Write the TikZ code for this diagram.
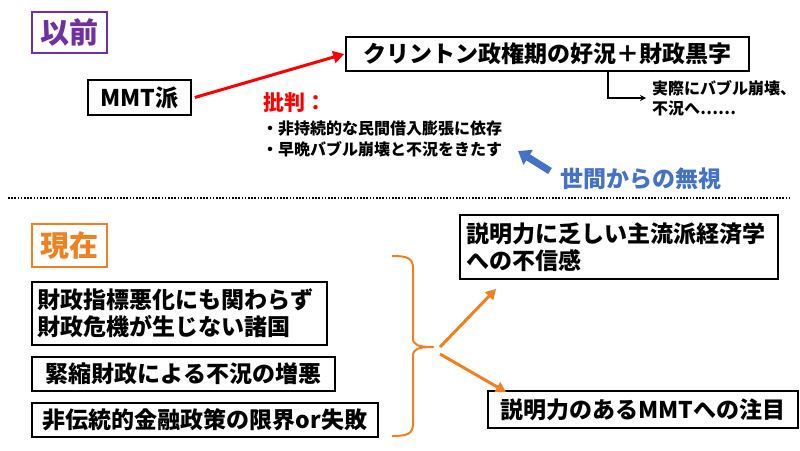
\documentclass[tikz,border=0pt]{standalone}
\usepackage{fontspec}
\setmainfont{Noto Sans CJK JP}
\usetikzlibrary{arrows.meta}
\definecolor{mpurple}{HTML}{7030A0}
\definecolor{morange}{HTML}{F08020}
\definecolor{mblue}{HTML}{4472C4}
\definecolor{mred}{HTML}{FF0000}
\begin{document}
\begin{tikzpicture}[x=1pt,y=-1pt,
  box/.style={draw=black, line width=1.5pt, inner sep=0pt, font=\bfseries\fontsize{23}{27}\selectfont},
  tag/.style={line width=1.5pt, inner sep=0pt, font=\bfseries\fontsize{29}{32}\selectfont},
  small/.style={inner sep=0pt, font=\bfseries\fontsize{16}{21}\selectfont, align=left},
]
\useasboundingbox (0,0) rectangle (800,450);
\fill[white] (0,0) rectangle (800,450);

% --- before ---
\node[tag, draw=mpurple, text=mpurple, minimum width=75pt, minimum height=41pt] (before) at (69.5,32.5) {以前};
\node[box, minimum width=103pt, minimum height=35pt] (mmt) at (139.5,97.5) {MMT派};
\node[box, minimum width=403pt, minimum height=34pt] (clinton) at (547.5,54) {クリントン政権期の好況＋財政黒字};
\node[inner sep=0pt, anchor=west, text=mred, font=\bfseries\fontsize{21}{25}\selectfont] (critic) at (263,103) {批判：};
\node[small, anchor=north west] (bullets) at (262,121) {・非持続的な民間借入膨張に依存\\・早晩バブル崩壊と不況をきたす};
\node[small, anchor=west, font=\bfseries\fontsize{16}{20}\selectfont] (bubble) at (652,98) {実際にバブル崩壊、\\不況へ……};
\node[inner sep=0pt, text=mblue, font=\bfseries\fontsize{23}{26}\selectfont] (ignore) at (641,179) {世間からの無視};

\draw[mred, line width=3pt, -{Triangle[length=11pt,width=12pt]}] (mmt.east) ++(3,0) -- ([xshift=-1pt]clinton.west);
\draw[black, line width=1.2pt, -{Stealth[length=6pt,width=6pt]}] ([xshift=60.5pt]clinton.south) |- ([xshift=-6pt]bubble.west);
\coordinate (bs) at (550,171);
\coordinate (bt) at (518,151);
\draw[mblue, line width=7pt, -{Triangle[length=12pt,width=17pt]}] (bs) -- (bt);

% --- dotted separator ---
\coordinate (d1) at (8,198);
\coordinate (d2) at (791,198);
\draw[line width=1.6pt, dash pattern=on 1.6pt off 1.6pt] (d1) -- (d2);

% --- now ---
\node[tag, draw=morange, text=morange, minimum width=75pt, minimum height=43pt] (now) at (69.5,245.5) {現在};
\node[box, minimum width=295pt, minimum height=63pt, text width=284pt, align=left] (b1) at (179.5,313.5) {財政指標悪化にも関わらず\\財政危機が生じない諸国};
\node[box, minimum width=303pt, minimum height=34pt] (b2) at (183.5,374) {緊縮財政による不況の増悪};
\node[box, minimum width=346pt, minimum height=34pt] (b3) at (205,420) {非伝統的金融政策の限界or失敗};

\node[box, minimum width=318pt, minimum height=64pt, text width=306pt, align=left] (r1) at (619,247) {説明力に乏しい主流派経済学\\への不信感};
\node[box, minimum width=310pt, minimum height=37pt] (r2) at (643,409.5) {説明力のあるMMTへの注目};

% brace
\draw[morange, line width=2pt, line join=round]
  (392,256) .. controls (407,256) and (413,258) .. (413,268) -- (413,338)
  .. controls (413,345) and (418,347) .. (433,347)
  .. controls (418,347) and (413,349) .. (413,356) -- (413,424)
  .. controls (413,434) and (407,436) .. (392,436);

\coordinate (t1) at (440,347);
\coordinate (t2) at (440,354);
\coordinate (e1) at (496,289);
\coordinate (e2) at (506,392);
\draw[morange, line width=3pt, -{Triangle[length=10pt,width=11pt]}] (t1) -- (e1);
\draw[morange, line width=3pt, -{Triangle[length=10pt,width=11pt]}] (t2) -- (e2);
\end{tikzpicture}
\end{document}
